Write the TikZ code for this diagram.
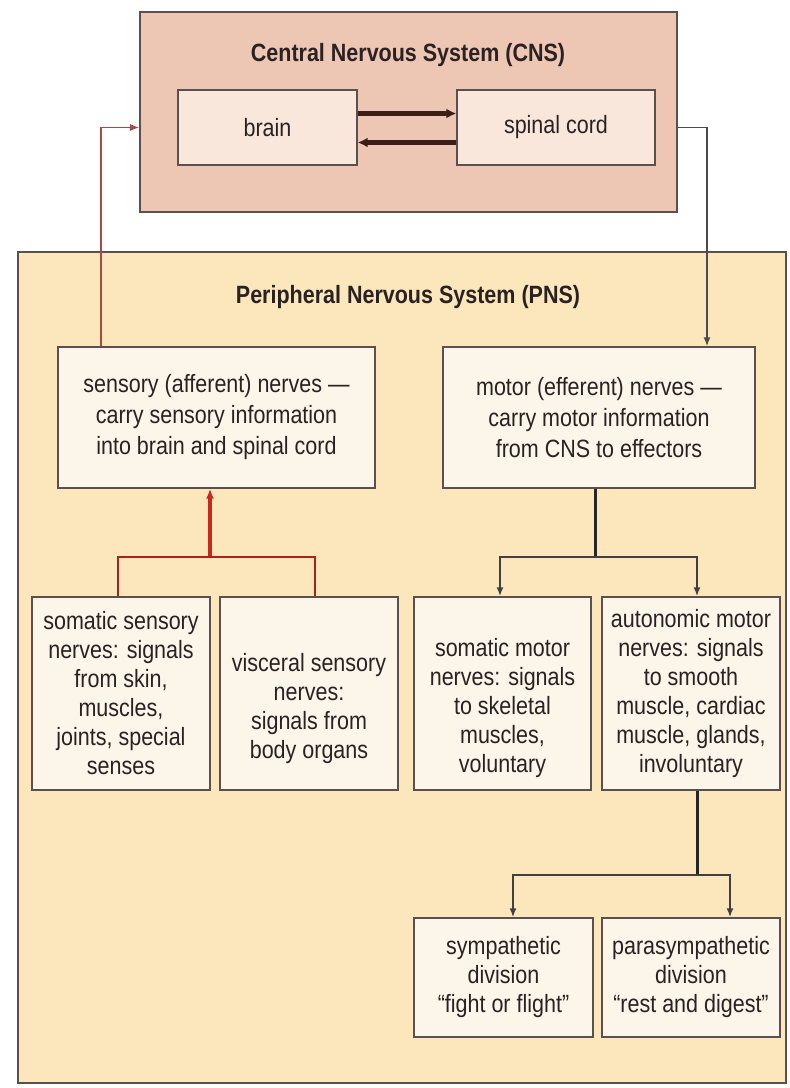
\documentclass[tikz,border=0pt]{standalone}
\usepackage{fontspec}
\setmainfont{Liberation Sans}[FakeStretch=0.86]
\usetikzlibrary{calc,positioning,arrows.meta}

\definecolor{cnsfill}{HTML}{EDC6B4}
\definecolor{cordfill}{HTML}{F9E7DC}
\definecolor{pnsfill}{HTML}{FCE6BC}
\definecolor{nervefill}{HTML}{FBF5EA}
\definecolor{edge}{HTML}{5A5050}
\definecolor{sensred}{HTML}{C8281E}
\definecolor{afferent}{HTML}{A84848}
\definecolor{tractbrown}{HTML}{3C1E16}
\definecolor{ink}{HTML}{2A2222}

\tikzset{
  panel/.style={draw=edge, line width=1.6pt},
  cordbox/.style={draw=edge, line width=1.4pt, fill=cordfill, align=center,
    text=ink, font=\fontsize{25}{30}\selectfont},
  nervebox/.style={draw=edge, line width=1.4pt, fill=nervefill, align=center,
    inner sep=0pt, text=ink, font=\fontsize{25}{29}\selectfont},
  title/.style={text=ink, font=\fontsize{25}{30}\selectfont\bfseries},
  tract/.style={line width=4.5pt, draw=tractbrown, -{Latex[length=10pt,width=10pt]}},
  sensline/.style={line width=2.2pt, draw=sensred!85!black},
  motorline/.style={line width=3pt, draw=black!85},
  branch/.style={line width=1.8pt, draw=black!75, -{Latex[length=9pt,width=7pt]}},
}
% pushes a short text a little below the middle of its box
\newcommand{\lowstart}{\rule{0pt}{48pt}}

\begin{document}
\begin{tikzpicture}[x=1pt, y=-1pt]
    \useasboundingbox[fill=white] (0,0) rectangle (790,1088);

    % The two big panels
    \node[panel, fill=pnsfill, minimum width=768pt, minimum height=831pt] (pns) at (402,667.5) {};
    \node[panel, fill=cnsfill, minimum width=537pt, minimum height=200pt] (cns) at (408.5,112) {};
    \node[title] (cnstitle) at (408,55) {Central Nervous System (CNS)};
    \node[title] (pnstitle) at (408,297) {Peripheral Nervous System (PNS)};

    % CNS
    \node[cordbox, minimum width=179pt, minimum height=75pt] (brain) at (267.5,127.5) {brain};
    \node[cordbox, minimum width=198pt, minimum height=75pt] (cord) at (556,127.5) {spinal cord};
    \draw[tract] ([yshift=14pt]brain.east) -- ([yshift=14pt]cord.west);
    \draw[tract] ([yshift=-15pt]cord.west) -- ([yshift=-15pt]brain.east);

    % PNS, first level
    \node[nervebox, minimum width=317pt, minimum height=141pt, font=\fontsize{25}{31}\selectfont] (sensory) at (216.5,417.5)
        {sensory (afferent) nerves ---\\ carry sensory information\\ into brain and spinal cord};
    \node[nervebox, minimum width=312pt, minimum height=141pt, font=\fontsize{25}{31}\selectfont] (motor) at (599,417.5)
        {motor (efferent) nerves ---\\ carry motor information\\ from CNS to effectors};

    % PNS, second level
    \node[nervebox, minimum width=178pt, minimum height=193pt] (somsens) at (121,693.5)
        {somatic sensory\\ nerves: signals\\ from skin,\\ muscles,\\ joints, special\\ senses};
    \node[nervebox, minimum width=178pt, minimum height=193pt] (visc) at (309,693.5)
        {\lowstart visceral sensory\\ nerves:\\ signals from\\ body organs};
    \node[nervebox, minimum width=177pt, minimum height=193pt] (sommot) at (502.5,693.5)
        {\lowstart somatic motor\\ nerves: signals\\ to skeletal\\ muscles,\\ voluntary};
    \node[nervebox, minimum width=178pt, minimum height=193pt] (auto) at (691,693.5)
        {autonomic motor\\ nerves: signals\\ to smooth\\ muscle, cardiac\\ muscle, glands,\\ involuntary};

    % PNS, third level
    \node[nervebox, minimum width=179pt, minimum height=119pt] (symp) at (503.5,977.5)
        {sympathetic\\ division\\ ``fight or flight''};
    \node[nervebox, minimum width=178pt, minimum height=119pt] (para) at (691,977.5)
        {parasympathetic\\ division\\ ``rest and digest''};

    % Links between CNS and PNS
    \draw[line width=1.4pt, afferent, -{Latex[length=9pt,width=7pt]}]
        ([xshift=-115.5pt]sensory.north) |- (brain -| cns.west);
    \draw[line width=1.4pt, black!70, -{Latex[length=9pt,width=7pt]}]
        (cord -| cns.east) -| ([xshift=108pt]motor.north);

    % Sensory branches
    \coordinate (sfork) at (210,557);
    \draw[sensline, line width=3.2pt, draw=sensred, -{Latex[length=10pt,width=8pt]}] (sfork) -- (sfork |- sensory.south);
    \draw[sensline] ([xshift=-3pt]somsens.north) |- (sfork) -| ([xshift=6pt]visc.north);

    % Motor branches
    \coordinate (mfork) at (595,557);
    \draw[motorline] (mfork |- motor.south) -- (mfork);
    \draw[branch] (mfork) -| ([xshift=-2.5pt]sommot.north);
    \draw[branch] (mfork) -| ([xshift=6pt]auto.north);

    % Autonomic branches
    \coordinate (afork) at (697,875);
    \draw[motorline] (afork |- auto.south) -- (afork);
    \draw[branch] (afork) -| ([xshift=9.5pt]symp.north);
    \draw[branch] (afork) -| ([xshift=39pt]para.north);
\end{tikzpicture}
\end{document}
